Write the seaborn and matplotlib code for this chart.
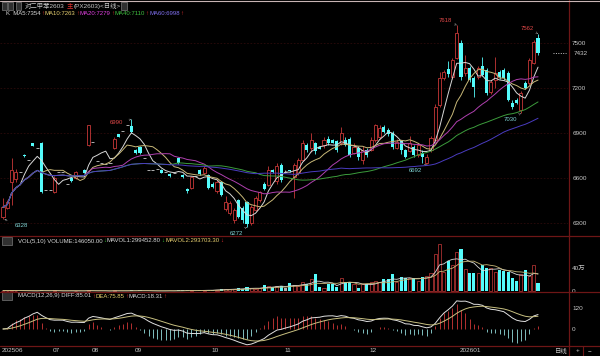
import numpy as np
import pandas as pd
import matplotlib
matplotlib.use('Agg')
import matplotlib.pyplot as plt
from matplotlib.lines import Line2D
from matplotlib.patches import Rectangle
import seaborn as sns

# daily K-line of PX2603 (one entry per candle)
opens = [6340, 6400, 6575, 6590, 6640, 6755, 6720, 6830, 6800, 6835,
         6520, 6520, 6507, 6640, 6640, 6560, 6600, 6600, 6620, 6655,
         6820, 6840, 6710, 6700, 6690, 6700, 6800, 6890, 6913, 6950,
         6945, 6787, 6807, 6730, 6655, 6655, 6660, 6655, 6640, 6625,
         6630, 6733, 6620, 6525, 6533, 6610, 6653, 6633, 6620, 6560,
         6510, 6573, 6393, 6367, 6320, 6453, 6400, 6440, 6300, 6387,
         6453, 6560, 6553, 6655, 6580, 6687, 6640, 6652, 6607, 6633,
         6720, 6820, 6800, 6830, 6805, 6820, 6860, 6853, 6847, 6833,
         6853, 6860, 6767, 6800, 6720, 6787, 6787, 6853, 6873, 6940,
         6920, 6900, 6800, 6847, 6787, 6780, 6807, 6753, 6767, 6700,
         6787, 6853, 7087, 7267, 7327, 7273, 7400, 7500, 7300, 7333,
         7267, 7273, 7347, 7320, 7173, 7250, 7307, 7320, 7300, 7100,
         7120, 7053, 7233, 7233, 7367, 7533]
highs = [6465, 6450, 6730, 6660, 6640, 6760, 6720, 6835, 6800, 6840,
         6520, 6520, 6610, 6640, 6640, 6560, 6605, 6645, 6620, 6660,
         6955, 6840, 6710, 6700, 6690, 6700, 6870, 6895, 6913, 6950,
         6990, 6795, 6815, 6730, 6655, 6655, 6660, 6660, 6640, 6630,
         6630, 6740, 6625, 6535, 6615, 6610, 6660, 6680, 6625, 6570,
         6585, 6580, 6480, 6447, 6400, 6460, 6410, 6447, 6420, 6480,
         6515, 6570, 6680, 6660, 6700, 6700, 6650, 6655, 6700, 6730,
         6850, 6830, 6900, 6840, 6810, 6870, 6880, 6860, 6850, 6940,
         6870, 6870, 6830, 6810, 6810, 6800, 6870, 6960, 6950, 6950,
         6930, 6910, 6860, 6855, 6795, 6880, 6820, 6830, 6787, 6760,
         6880, 7090, 7307, 7320, 7380, 7400, 7618, 7520, 7420, 7345,
         7280, 7345, 7407, 7330, 7250, 7407, 7320, 7330, 7310, 7120,
         7130, 7180, 7245, 7400, 7520, 7562]
lows = [6328, 6390, 6420, 6570, 6640, 6740, 6720, 6810, 6800, 6500,
        6520, 6520, 6500, 6640, 6640, 6560, 6575, 6595, 6620, 6630,
        6815, 6840, 6710, 6700, 6690, 6700, 6790, 6870, 6913, 6950,
        6900, 6760, 6760, 6730, 6655, 6655, 6660, 6630, 6640, 6605,
        6630, 6695, 6600, 6500, 6525, 6610, 6620, 6625, 6525, 6530,
        6500, 6480, 6380, 6350, 6300, 6330, 6300, 6272, 6285, 6380,
        6440, 6520, 6545, 6630, 6560, 6570, 6630, 6640, 6467, 6620,
        6710, 6770, 6770, 6760, 6790, 6800, 6820, 6830, 6770, 6820,
        6810, 6740, 6760, 6720, 6690, 6740, 6780, 6840, 6860, 6900,
        6880, 6790, 6790, 6760, 6730, 6770, 6740, 6740, 6700, 6692,
        6770, 6840, 7070, 7250, 7270, 7260, 7390, 7250, 7280, 7240,
        7140, 7260, 7280, 7150, 7160, 7200, 7260, 7250, 7110, 7060,
        7090, 7030, 7190, 7220, 7360, 7420]
closes = [6405, 6440, 6650, 6640, 6640, 6745, 6720, 6815, 6800, 6507,
          6520, 6520, 6600, 6640, 6640, 6560, 6580, 6640, 6620, 6633,
          6953, 6840, 6710, 6700, 6690, 6700, 6860, 6875, 6913, 6950,
          6907, 6767, 6767, 6730, 6655, 6655, 6660, 6635, 6640, 6610,
          6630, 6700, 6607, 6515, 6607, 6610, 6627, 6667, 6533, 6540,
          6573, 6487, 6440, 6433, 6387, 6340, 6320, 6290, 6407, 6467,
          6507, 6527, 6653, 6640, 6680, 6587, 6640, 6645, 6687, 6720,
          6833, 6787, 6850, 6780, 6795, 6853, 6833, 6833, 6787, 6900,
          6820, 6753, 6807, 6740, 6787, 6753, 6853, 6953, 6933, 6907,
          6893, 6807, 6840, 6787, 6740, 6830, 6753, 6820, 6740, 6740,
          6867, 7073, 7267, 7307, 7293, 7387, 7567, 7273, 7330, 7253,
          7207, 7333, 7287, 7167, 7240, 7300, 7273, 7267, 7120, 7073,
          7100, 7167, 7200, 7387, 7507, 7432]
volumes = [8000, 5000, 15000, 6000, 0, 3000, 0, 4000, 0, 20000,
           0, 0, 10000, 0, 0, 0, 4000, 5000, 0, 3000,
           18000, 0, 0, 0, 0, 0, 9000, 5000, 0, 0,
           12000, 8000, 9000, 0, 0, 0, 0, 6000, 0, 7000,
           0, 10000, 9000, 12000, 15000, 0, 12000, 14000, 22000, 15000,
           25000, 30000, 28000, 40000, 30000, 45000, 40000, 65000, 50000, 40000,
           45000, 100000, 80000, 70000, 90000, 85000, 60000, 133000, 110000, 90000,
           150000, 116000, 203000, 302000, 75000, 60000, 128000, 128000, 75000, 232000,
           162000, 162000, 116000, 46000, 116000, 116000, 162000, 180000, 160000, 203000,
           203000, 300000, 150000, 250000, 220000, 230000, 220000, 180000, 240000, 260000,
           320000, 640000, 810000, 330000, 520000, 450000, 684000, 737000, 377000, 319000,
           319000, 319000, 447000, 406000, 400000, 330000, 360000, 350000, 330000, 230000,
           170000, 290000, 360000, 254000, 447000, 146050]

month_pos = [0, 12, 21, 31, 49, 66, 86, 107]
month_labels = ['202506', '07', '08', '09', '10', '11', '12', '202601']
price_ticks = [6300, 6600, 6900, 7200, 7500]
vol_ticks = [0, 400000]
vol_tick_labels = ['0', '40万']
macd_ticks = [0, 120]

ma_periods = [5, 10, 20, 40, 60]
ma_colors = ['#d8d8d8', '#c8b878', '#b040b0', '#3c9c3c', '#4a3cc0']

# extreme-price markers: candle index and which price
marks = [(0, 'low'), (30, 'high'), (57, 'low'), (99, 'low'),
         (106, 'high'), (121, 'low'), (125, 'high')]

RED = '#c83838'
CYAN = '#54fcfc'
FG = '#c8c8c8'
SEP = '#6e1616'

df = pd.DataFrame({'open': opens, 'high': highs, 'low': lows,
                   'close': closes, 'vol': volumes})
df['idx'] = np.arange(len(df))
for p in ma_periods:
    df[f'ma{p}'] = df['close'].rolling(p, min_periods=1).mean()
df['mavol1'] = df['vol'].rolling(5, min_periods=1).mean()
df['mavol2'] = df['vol'].rolling(10, min_periods=1).mean()
ema12 = df['close'].ewm(span=12, adjust=False).mean()
ema26 = df['close'].ewm(span=26, adjust=False).mean()
df['diff'] = ema12 - ema26
df['dea'] = df['diff'].ewm(span=9, adjust=False).mean()
df['macd'] = 2 * (df['diff'] - df['dea'])

sns.set_theme(style='dark', rc={'axes.facecolor': 'black',
                                'figure.facecolor': 'black'})
plt.rcParams['font.family'] = ['Liberation Sans', 'Noto Sans CJK SC', 'DejaVu Sans']

W, H = 600, 356
fig = plt.figure(figsize=(6, 3.56), dpi=100)
renderer = fig.canvas.get_renderer()


def box(x0, y0, x1, y1):
    return [x0 / W, 1 - y1 / H, (x1 - x0) / W, (y1 - y0) / H]


def px(x, y):
    return x / W, 1 - y / H


def text_row(x, y, pieces, size=4.3, gap=0.6):
    # lay coloured pieces one after another so they never overlap
    for t, c in pieces:
        tx = fig.text(*px(x, y), t, color=c, fontsize=size, va='center', ha='left')
        x += tx.get_window_extent(renderer).width + gap


ax = fig.add_axes(box(0, 20, 568, 236))
axv = fig.add_axes(box(0, 236, 568, 292), sharex=ax)
axm = fig.add_axes(box(0, 292, 568, 346), sharex=ax)

for a in (ax, axv, axm):
    a.set_facecolor('black')
    for s in a.spines.values():
        s.set_visible(False)
    a.yaxis.tick_right()
    a.tick_params(axis='y', length=0, pad=3, labelsize=4.6, labelcolor=FG)
    a.tick_params(axis='x', length=0)
    a.grid(False)

ax.set_xlim(-0.7, 132)
ax.set_ylim(6213, 7653)
axv.set_ylim(-17400, 956500)
axm.set_ylim(-97, 211)

# candles
up = df[df['close'] > df['open']]
dn = df[df['close'] < df['open']]
fl = df[df['close'] == df['open']]
ax.vlines(up['idx'], up['close'], up['high'], color=RED, lw=0.6)
ax.vlines(up['idx'], up['low'], up['open'], color=RED, lw=0.6)
ax.bar(up['idx'], up['close'] - up['open'], bottom=up['open'], width=0.72,
       facecolor='black', edgecolor=RED, linewidth=0.6, zorder=3)
ax.vlines(dn['idx'], dn['low'], dn['high'], color=CYAN, lw=0.6, zorder=3)
ax.bar(dn['idx'], dn['open'] - dn['close'], bottom=dn['close'], width=0.72,
       color=CYAN, linewidth=0, zorder=3)
ax.vlines(fl['idx'], fl['low'], fl['high'], color='#b0b0b0', lw=0.6)
ax.hlines(fl['close'], fl['idx'] - 0.36, fl['idx'] + 0.36, color='#b0b0b0', lw=0.7)

for p, c in zip(ma_periods, ma_colors):
    sns.lineplot(x=df['idx'], y=df[f'ma{p}'], ax=ax, color=c, linewidth=0.7,
                 legend=False, estimator=None, zorder=4)

ax.set_yticks(price_ticks)
ax.grid(axis='y', color='#2c0a0a', linestyle=(0, (2, 2)), linewidth=0.6)
ax.set_xlabel('')
ax.set_ylabel('')

for i, kind in marks:
    if kind == 'high':
        val, col, off = highs[i], '#e04848', (-11, 5)
    else:
        val, col, off = lows[i], '#7fd4d4', (-11, -6)
    if i == 0:
        off = (18, -7)
    if i == 30:
        off = (-15, -3)
    ax.annotate(str(val), xy=(i, val), xytext=off, textcoords='offset pixels',
                fontsize=4.3, color=col, ha='center', va='center',
                arrowprops=dict(arrowstyle='->', color='#d0d0d0', lw=0.4,
                                linestyle=':', shrinkA=3, shrinkB=1,
                                mutation_scale=3))

# last price tag
last = closes[-1]
ax.hlines(last, 128.5, 131.5, color=FG, lw=0.7, linestyle=(0, (1, 1.5)))
ax.annotate(str(last), xy=(1, last), xycoords=('axes fraction', 'data'),
            xytext=(6, 0), textcoords='offset pixels', fontsize=4.6,
            color=FG, va='center', annotation_clip=False)

# volume
axv.bar(up['idx'], up['vol'], width=0.72, facecolor='black',
        edgecolor='#a83030', linewidth=0.6)
axv.bar(dn['idx'], dn['vol'], width=0.72, color=CYAN, linewidth=0)
axv.bar(fl['idx'], fl['vol'], width=0.72, color='#b0b0b0', linewidth=0)
sns.lineplot(x=df['idx'], y=df['mavol1'], ax=axv, color='#d8d8d8',
             linewidth=0.6, legend=False, estimator=None)
sns.lineplot(x=df['idx'], y=df['mavol2'], ax=axv, color='#c8b878',
             linewidth=0.6, legend=False, estimator=None)
axv.set_yticks(vol_ticks)
axv.set_yticklabels(vol_tick_labels)
axv.set_xlabel('')
axv.set_ylabel('')

# macd
bar_cols = np.where(df['macd'] >= 0, '#b43030', '#7fbfbf')
axm.vlines(df['idx'], 0, df['macd'], colors=bar_cols, lw=0.7)
sns.lineplot(x=df['idx'], y=df['diff'], ax=axm, color='#e0e0e0',
             linewidth=0.7, legend=False, estimator=None)
sns.lineplot(x=df['idx'], y=df['dea'], ax=axm, color='#c8c080',
             linewidth=0.7, legend=False, estimator=None)
axm.set_yticks(macd_ticks)
axm.set_xlabel('')
axm.set_ylabel('')
axm.set_xticks([m - 0.3 for m in month_pos])
axm.set_xticklabels(month_labels, ha='left')
axm.tick_params(axis='x', labelsize=4.6, labelcolor=FG, pad=1.5)
plt.setp(ax.get_xticklabels(), visible=False)
plt.setp(axv.get_xticklabels(), visible=False)

# panel frame lines
for y in (236, 292, 346):
    fig.add_artist(Line2D([0, 1], [1 - y / H] * 2, color=SEP, lw=0.9))
fig.add_artist(Line2D([569 / W] * 2, [0, 1], color=SEP, lw=0.9))
fig.add_artist(Line2D([0, 1], [1 - 1 / H] * 2, color='#c8b4b4', lw=0.8))

# header texts
for x0 in (2, 8, 16):
    fig.add_artist(Rectangle(px(x0, 10), 5 / W, 8 / H, facecolor='#303030',
                             edgecolor='#909090', lw=0.4))
text_row(25, 6, [('对二甲苯2603', FG), ('主', '#e03030'),
                 ('(PX2603)<日线>', FG)], size=4.6, gap=1.5)
fig.add_artist(Rectangle(px(121, 10), 6 / W, 8 / H, facecolor='#303030',
                         edgecolor='#909090', lw=0.4))

text_row(6, 13.5, [('K  MA5:7354', '#d8d8d8'), ('↑', '#e03030'),
                   ('MA10:7263', '#e8d070'), ('↑', '#e03030'),
                   ('MA20:7279', '#e040e0'), ('↑', '#e03030'),
                   ('MA40:7110', '#40c040'), ('↑', '#e03030'),
                   ('MA60:6998', '#8070f0'), ('↑', '#e03030')])

for yy in (241, 296):
    fig.add_artist(Rectangle(px(2, yy + 4), 10 / W, 8 / H, facecolor='#303030',
                             edgecolor='#909090', lw=0.4))
text_row(18, 241, [('VOL(5,10) VOLUME:146050.00', '#d8d8d8'), ('↓', '#30c030'),
                   ('MAVOL1:299452.80', '#d8d8d8'), ('↓', '#30c030'),
                   ('MAVOL2:293703.30', '#e8d070'), ('↓', '#e03030')])
text_row(18, 296, [('MACD(12,26,9) DIFF:85.01', '#d8d8d8'), ('↑', '#e03030'),
                   ('DEA:75.85', '#e8d070'), ('↑', '#e03030'),
                   ('MACD:18.31', '#d8d8d8'), ('↑', '#e03030')])

text_row(555, 351, [('日线', FG)], size=4.6)
fig.add_artist(Line2D([583 / W] * 2, [0, 10 / H], color=SEP, lw=0.8))
text_row(576, 351, [('+', FG)], size=4.6)
text_row(588, 351, [('−', FG)], size=4.6)

fig.savefig('out.png', dpi=100, facecolor='black')
